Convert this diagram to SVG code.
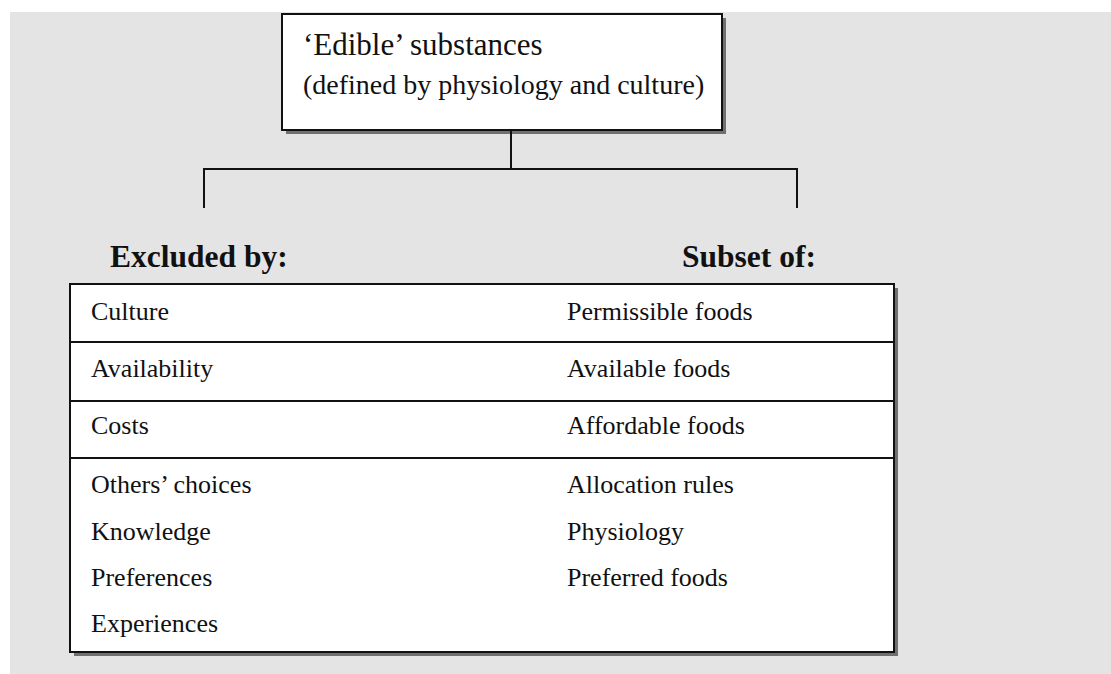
<svg xmlns="http://www.w3.org/2000/svg" width="1111" height="674" viewBox="0 0 1111 674">
  <style>
    .txt { font-family: "Liberation Serif", "Times New Roman", serif; fill: #111; }
    .item { font-size: 26px; }
    .head { font-size: 31.5px; font-weight: bold; }
    .box { fill: #fff; stroke: #111; stroke-width: 2; }
    .shadow { fill: #707070; }
    .rule { stroke: #111; stroke-width: 2; fill: none; }
    .conn { stroke: #111; stroke-width: 2; fill: none; }
  </style>

  <!-- page background -->
  <rect x="0" y="0" width="1111" height="674" fill="#ffffff"/>
  <rect x="10" y="12" width="1101" height="662" fill="#e4e4e4"/>

  <!-- top node -->
  <g id="edible-substances">
    <rect class="shadow" x="286" y="18" width="440" height="116"/>
    <rect class="box" x="282" y="14" width="440" height="116"/>
    <text class="txt" x="303" y="55" font-size="31">‘Edible’ substances</text>
    <text class="txt" x="303" y="94" font-size="28">(defined by physiology and culture)</text>
  </g>

  <!-- connectors -->
  <g id="connectors">
    <path class="conn" d="M511 131 V169"/>
    <path class="conn" d="M204 208 V169 H797 V208"/>
  </g>

  <!-- column headings -->
  <g id="excluded-by">
    <text class="txt head" x="110" y="267">Excluded by:</text>
  </g>
  <g id="subset-of">
    <text class="txt head" x="682" y="267">Subset of:</text>
  </g>

  <!-- table of filters -->
  <g id="filter-table">
    <rect class="shadow" x="74" y="288" width="824" height="368"/>
    <rect class="box" x="70" y="284" width="824" height="368"/>
    <line class="rule" x1="70" y1="342" x2="894" y2="342"/>
    <line class="rule" x1="70" y1="401" x2="894" y2="401"/>
    <line class="rule" x1="70" y1="458" x2="894" y2="458"/>

    <g id="row-culture">
      <text class="txt item" x="91" y="320">Culture</text>
      <text class="txt item" x="567" y="320">Permissible foods</text>
    </g>
    <g id="row-availability">
      <text class="txt item" x="91" y="377">Availability</text>
      <text class="txt item" x="567" y="377">Available foods</text>
    </g>
    <g id="row-costs">
      <text class="txt item" x="91" y="434">Costs</text>
      <text class="txt item" x="567" y="434">Affordable foods</text>
    </g>
    <g id="row-individual">
      <text class="txt item" x="91" y="493">Others’ choices</text>
      <text class="txt item" x="91" y="540">Knowledge</text>
      <text class="txt item" x="91" y="586">Preferences</text>
      <text class="txt item" x="91" y="632">Experiences</text>
      <text class="txt item" x="567" y="493">Allocation rules</text>
      <text class="txt item" x="567" y="540">Physiology</text>
      <text class="txt item" x="567" y="586">Preferred foods</text>
    </g>
  </g>
</svg>
